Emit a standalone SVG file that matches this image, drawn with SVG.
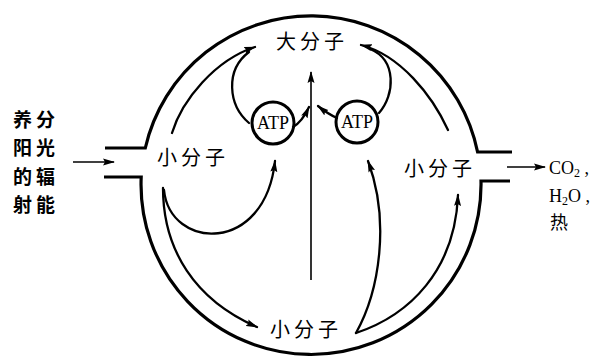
<svg xmlns="http://www.w3.org/2000/svg" width="596" height="358" viewBox="0 0 596 358">
<style>
.cjk{font-family:"Noto Sans CJK SC","Noto Sans CJK JP",sans-serif;fill:#000}
.lbl{font-size:20px;letter-spacing:4px}
.side{font-size:19px;font-weight:bold;letter-spacing:4px}
.ser{font-family:"Liberation Serif",serif;fill:#000}
.ring{fill:none;stroke:#000;stroke-width:3.2;stroke-linejoin:miter}
.arc{fill:none;stroke:#000;stroke-width:2.3;stroke-linecap:round}
.thin{fill:none;stroke:#000;stroke-width:1.6}
.atp{fill:#fff;stroke:#000;stroke-width:3}
</style>
<defs>
<marker id="ah" viewBox="0 0 12 8" refX="11" refY="4" markerWidth="12" markerHeight="8" markerUnits="userSpaceOnUse" orient="auto">
<path d="M0,0.5 L12,4 L0,7.5 L2,4 Z" fill="#000"/>
</marker>
</defs>
<rect width="596" height="358" fill="#fff"/>

<g id="cell-wall">
<path class="ring" d="M105,148 H145.3 A170,170 0 0 1 477.6,152 H512"/>
<path class="ring" d="M510,181 H481 A170,170 0 1 1 141.2,177 H104"/>
</g>

<g id="input">
<text class="cjk side" x="13" y="127">养分</text>
<text class="cjk side" x="13" y="155">阳光</text>
<text class="cjk side" x="13" y="184">的辐</text>
<text class="cjk side" x="13" y="212">射能</text>
</g>

<g id="output">
<text class="ser" x="549" y="174" font-size="18">CO<tspan font-size="12" dy="3">2</tspan><tspan dy="-3"> ,</tspan></text>
<text class="ser" x="549" y="202" font-size="18">H<tspan font-size="12" dy="3">2</tspan><tspan dy="-3">O ,</tspan></text>
<text class="cjk" x="550" y="229" font-size="18">热</text>
</g>

<g id="macro">
<text class="cjk lbl" x="276" y="49">大分子</text>
</g>
<g id="small-left">
<text class="cjk lbl" x="157" y="165">小分子</text>
</g>
<g id="small-right">
<text class="cjk lbl" x="404" y="176">小分子</text>
</g>
<g id="small-bottom">
<text class="cjk lbl" x="270" y="337">小分子</text>
</g>

<g id="atp-left">
<circle class="atp" cx="273" cy="123" r="21"/>
<text class="ser" x="273" y="129" font-size="18" text-anchor="middle">ATP</text>
</g>
<g id="atp-right">
<circle class="atp" cx="357" cy="122" r="21"/>
<text class="ser" x="357" y="128" font-size="18" text-anchor="middle">ATP</text>
</g>

<g id="connectors">
<line class="thin" x1="73" y1="162" x2="114" y2="162" marker-end="url(#ah)"/>
<line class="thin" x1="507" y1="167" x2="545" y2="167" marker-end="url(#ah)"/>
<line class="thin" x1="311" y1="280" x2="311" y2="72" marker-end="url(#ah)"/>
<path class="arc" d="M293,127 Q302,122 309,107" marker-end="url(#ah)"/>
<path class="arc" d="M337,118 Q328,114 318,106" marker-end="url(#ah)"/>
<path class="arc" d="M172,133 C182,100 215,60 255,47" marker-end="url(#ah)"/>
<path class="arc" d="M249,123 C228,105 225,70 249,52"/>
<path class="arc" d="M448,130 C432,95 400,55 361,45" marker-end="url(#ah)"/>
<path class="arc" d="M379,113 C395,95 397,60 370,49"/>
<path class="arc" d="M164,190 C170,250 265,255 275,161" marker-end="url(#ah)"/>
<path class="arc" d="M163,188 C163,250 195,300 257,327" marker-end="url(#ah)"/>
<path class="arc" d="M356,333 C380,290 390,220 368,161" marker-end="url(#ah)"/>
<path class="arc" d="M356,333 C410,315 455,270 458,195" marker-end="url(#ah)"/>
</g>
</svg>
